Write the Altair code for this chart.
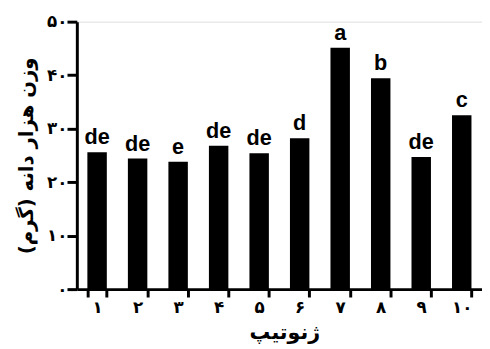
import altair as alt
import pandas as pd

genotypes = ["۱", "۲", "۳", "۴", "۵", "۶", "۷", "۸", "۹", "۱۰"]
weights = [25.6, 24.4, 23.8, 26.8, 25.4, 28.2, 45.1, 39.4, 24.7, 32.5]
letters = ["de", "de", "e", "de", "de", "d", "a", "b", "de", "c"]
y_ticks = [0, 10, 20, 30, 40, 50]

df = pd.DataFrame({"g": genotypes, "w": weights, "l": letters})

ylabel_expr = ("datum.value == 0 ? '۰' : datum.value == 10 ? '۱۰' : datum.value == 20 ? '۲۰' : "
               "datum.value == 30 ? '۳۰' : datum.value == 40 ? '۴۰' : '۵۰'")

x = alt.X("g:N", sort=None, title="ژنوتیپ",
          scale=alt.Scale(paddingInner=0.52, paddingOuter=0.26),
          axis=alt.Axis(labelAngle=0, tickBand="extent", domainWidth=3, tickWidth=3,
                        tickSize=8, domainColor="black", tickColor="black",
                        labelFont="DejaVu Sans", labelFontWeight="bold", labelFontSize=17,
                        labelColor="black", labelPadding=3,
                        titleFont="DejaVu Sans", titleFontWeight="bold", titleFontSize=21,
                        titleColor="black", titlePadding=6, titleX=211))
y = alt.Y("w:Q", title="وزن هزار دانه (گرم)",
          scale=alt.Scale(domain=[0, 50], nice=False),
          axis=alt.Axis(values=y_ticks, labelExpr=ylabel_expr, grid=False,
                        domainWidth=3, tickWidth=3, tickSize=10,
                        domainColor="black", tickColor="black",
                        labelFont="DejaVu Sans", labelFontWeight="bold", labelFontSize=17,
                        labelColor="black", labelPadding=0,
                        titleFont="DejaVu Sans", titleFontWeight="bold", titleFontSize=20,
                        titleColor="black", titlePadding=10))

bars = alt.Chart(df).mark_bar(color="black").encode(x=x, y=y)
text = alt.Chart(df).mark_text(baseline="bottom", dy=-3, font="Liberation Sans",
                               fontWeight="bold", fontSize=22, color="black").encode(
    x=alt.X("g:N", sort=None), y="w:Q", text="l:N")

chart = (bars + text).properties(
    width=412, height=272,
    autosize=alt.AutoSizeParams(type="none"),
    padding={"left": 70, "top": 11, "right": 0, "bottom": 58},
).configure_view(stroke=None).configure(background="white")

chart.save("out.html", embed_options={"renderer": "svg", "actions": False})
